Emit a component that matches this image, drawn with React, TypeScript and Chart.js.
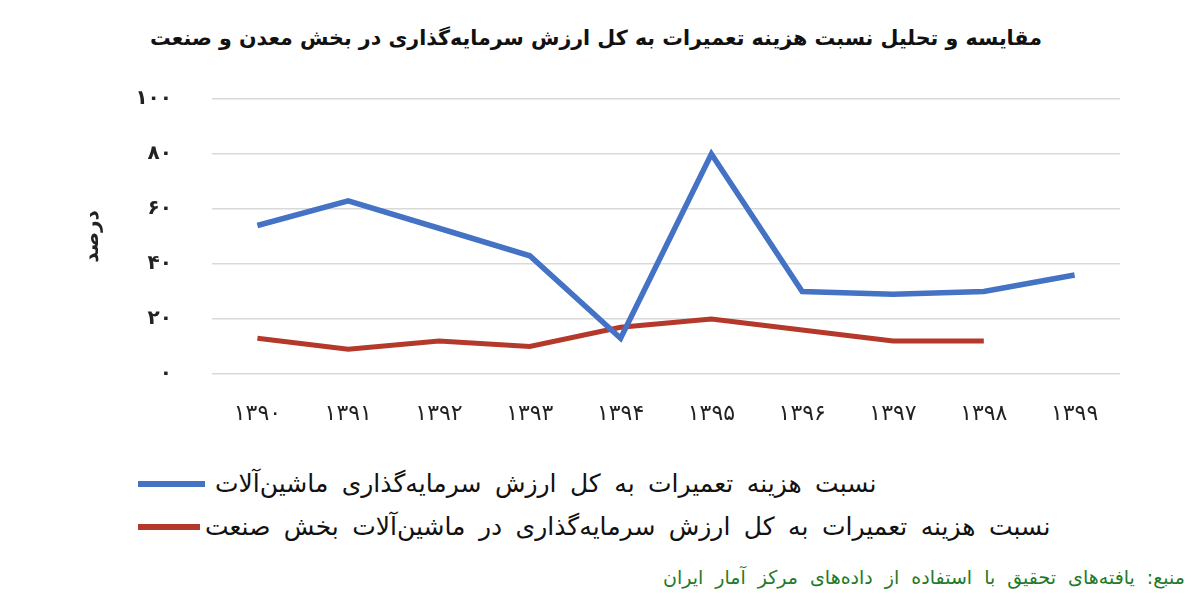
import React, { useEffect, useRef } from "react";
import { Chart, registerables } from "chart.js";

Chart.register(...registerables);

const TITLE = "مقایسه و تحلیل نسبت هزینه تعمیرات به کل ارزش سرمایه‌گذاری در بخش معدن و صنعت";
const Y_TITLE = "درصد";
const CATEGORIES = ["۱۳۹۰", "۱۳۹۱", "۱۳۹۲", "۱۳۹۳", "۱۳۹۴", "۱۳۹۵", "۱۳۹۶", "۱۳۹۷", "۱۳۹۸", "۱۳۹۹"];
const SERIES_MACHINERY = [54, 63, 53, 43, 13, 80, 30, 29, 30, 36];
const SERIES_INDUSTRY = [13, 9, 12, 10, 17, 20, 16, 12, 12, null];
const LABEL_MACHINERY = "نسبت هزینه تعمیرات به کل ارزش سرمایه‌گذاری ماشین‌آلات";
const LABEL_INDUSTRY = "نسبت هزینه تعمیرات به کل ارزش سرمایه‌گذاری در ماشین‌آلات بخش صنعت";
const SOURCE = "منبع: یافته‌های تحقیق با استفاده از داده‌های مرکز آمار ایران";
const Y_TICKS_MIN = 0;
const Y_TICKS_MAX = 100;
const Y_TICKS_STEP = 20;

const BLUE = "#4472c4";
const RED = "#b5392b";
const FONT = "'DejaVu Sans', sans-serif";

const toPersian = (n: number | string) =>
  String(n).replace(/[0-9]/g, (d) => "۰۱۲۳۴۵۶۷۸۹"[Number(d)]);

export default function App() {
  const ref = useRef<HTMLCanvasElement | null>(null);

  useEffect(() => {
    if (!ref.current) return;
    const chart = new Chart(ref.current, {
      type: "line",
      data: {
        labels: CATEGORIES,
        datasets: [
          {
            label: LABEL_MACHINERY,
            data: SERIES_MACHINERY,
            borderColor: BLUE,
            backgroundColor: BLUE,
            borderWidth: 5.5,
            pointRadius: 0,
            tension: 0,
          },
          {
            label: LABEL_INDUSTRY,
            data: SERIES_INDUSTRY as any,
            borderColor: RED,
            backgroundColor: RED,
            borderWidth: 5,
            pointRadius: 0,
            tension: 0,
          },
        ],
      },
      options: {
        animation: false,
        responsive: false,
        maintainAspectRatio: false,
        layout: { padding: { top: 99, right: 80, bottom: 10, left: 0 } },
        plugins: {
          legend: { display: false },
          title: { display: false },
          tooltip: { enabled: false },
        },
        scales: {
          x: {
            offset: true,
            grid: { display: false },
            border: { display: false },
            ticks: {
              color: "#222",
              font: { family: FONT, size: 22 },
              padding: 19,
              maxRotation: 0,
            },
            afterFit: (s: any) => {
              s.height = 56;
            },
          },
          y: {
            min: Y_TICKS_MIN,
            max: Y_TICKS_MAX,
            grid: { color: "#d9d9d9", lineWidth: 1.5, drawTicks: false },
            border: { display: false },
            ticks: {
              stepSize: Y_TICKS_STEP,
              color: "#222",
              font: { family: FONT, size: 20, weight: "bold" },
              padding: 40,
              callback: (v: any) => toPersian(v),
            },
            title: {
              display: true,
              text: Y_TITLE,
              color: "#222",
              font: { family: FONT, size: 20, weight: "bold" },
              padding: { top: 81, bottom: 0 },
            },
            afterFit: (s: any) => {
              s.width = 212;
            },
          },
        },
      },
    });
    return () => chart.destroy();
  }, []);

  const legendText: React.CSSProperties = {
    direction: "rtl",
    fontFamily: FONT,
    fontSize: 25,
    wordSpacing: 5.5,
    color: "#111",
    whiteSpace: "nowrap",
    lineHeight: "32px",
  };

  return (
    <div
      style={{
        position: "absolute",
        left: 0,
        top: 0,
        width: 1200,
        height: 595,
        background: "#fff",
        overflow: "hidden",
      }}
    >
      <div
        style={{
          position: "absolute",
          left: 0,
          top: 22,
          width: 1192,
          textAlign: "center",
          direction: "rtl",
          fontFamily: FONT,
          fontWeight: "bold",
          fontSize: 20.6,
          color: "#111",
          lineHeight: "32px",
        }}
      >
        {TITLE}
      </div>
      <canvas
        ref={ref}
        width={1200}
        height={440}
        style={{ position: "absolute", left: 0, top: 0, width: 1200, height: 440 }}
      />
      <div style={{ position: "absolute", left: 138, top: 468, display: "flex", alignItems: "center" }}>
        <span style={{ display: "inline-block", width: 67, height: 6, background: BLUE }} />
        <span style={{ ...legendText, marginLeft: 10 }}>{LABEL_MACHINERY}</span>
      </div>
      <div style={{ position: "absolute", left: 138, top: 511, display: "flex", alignItems: "center" }}>
        <span style={{ display: "inline-block", width: 62, height: 6, background: RED }} />
        <span style={{ ...legendText, marginLeft: 5 }}>{LABEL_INDUSTRY}</span>
      </div>
      <div
        style={{
          position: "absolute",
          right: 15,
          top: 563,
          direction: "rtl",
          fontFamily: FONT,
          fontSize: 19,
          wordSpacing: 6,
          color: "#1f7a2a",
          whiteSpace: "nowrap",
          lineHeight: "28px",
        }}
      >
        {SOURCE}
      </div>
    </div>
  );
}
